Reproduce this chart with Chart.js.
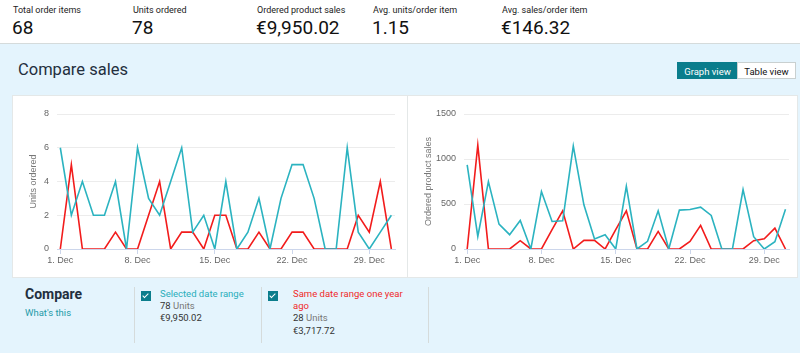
<!DOCTYPE html>
<html>
<head>
<meta charset="utf-8">
<script src="https://cdn.jsdelivr.net/npm/chart.js@4.4.1/dist/chart.umd.min.js"></script>
<style>
  body { margin: 0; width: 800px; height: 353px; overflow: hidden; background: #e4f4fd; font-family: Roboto, "Liberation Sans", sans-serif; color: #111; position: relative; }
  .abs { position: absolute; }
  #kpis { left: 0; top: 0; width: 800px; height: 43px; background: #fff; border-bottom: 1px solid #d5dbdb; }
  .kl { font-size: 9px; color: #222; top: 5px; }
  .kv { font-size: 19px; color: #111; top: 16px; }
  #title { left: 18px; top: 60px; font-size: 16.5px; color: #232f3e; }
  .btn { top: 62px; height: 17px; line-height: 17px; font-size: 9.5px; text-align: center; border: 1px solid #c9d0d0; box-sizing: border-box; }
  .panel { background: #fff; top: 95px; height: 183px; border: 1px solid #e4e8e8; box-sizing: border-box; }
  .sep { width: 1px; background: #d5dbdb; top: 287px; height: 56px; }
  .cb { width: 10px; height: 10px; background: #0a7d8c; top: 291px; }
  .cb::after { content: ""; position: absolute; left: 3px; top: 1px; width: 2px; height: 5px; border: solid #fff; border-width: 0 1px 1px 0; transform: rotate(45deg); }
  .s { font-size: 9.5px; }
</style>
</head>
<body>
<div id="kpis" class="abs">
  <div class="abs kl" style="left:13px">Total order items</div>
  <div class="abs kv" style="left:12px">68</div>
  <div class="abs kl" style="left:133px">Units ordered</div>
  <div class="abs kv" style="left:132px">78</div>
  <div class="abs kl" style="left:257px">Ordered product sales</div>
  <div class="abs kv" style="left:256px">€9,950.02</div>
  <div class="abs kl" style="left:373px">Avg. units/order item</div>
  <div class="abs kv" style="left:372px">1.15</div>
  <div class="abs kl" style="left:502px">Avg. sales/order item</div>
  <div class="abs kv" style="left:501px">€146.32</div>
</div>

<div id="title" class="abs">Compare sales</div>
<div class="abs btn" style="left:677px;width:61px;background:#0a7d8c;color:#fff;border-color:#0a7d8c">Graph view</div>
<div class="abs btn" style="left:737px;width:59px;background:#fff;color:#111">Table view</div>

<div class="abs panel" style="left:12px;width:396px">
  <div style="position:relative;width:394px;height:181px"><canvas id="unitsChart"></canvas></div>
</div>
<div class="abs panel" style="left:407px;width:391px">
  <div style="position:relative;width:389px;height:181px"><canvas id="salesChart"></canvas></div>
</div>

<div class="abs" style="left:25px;top:286px;font-size:14px;font-weight:bold;color:#232f3e">Compare</div>
<div class="abs s" style="left:25px;top:307px;color:#1e9aa8">What's this</div>
<div class="abs sep" style="left:134px"></div>
<div class="abs cb" style="left:141px"></div>
<div class="abs s" style="left:160px;top:288px;color:#2aaebb">Selected date range</div>
<div class="abs s" style="left:160px;top:300px;color:#333">78 <span style="color:#777">Units</span></div>
<div class="abs s" style="left:160px;top:312px;color:#333">€9,950.02</div>
<div class="abs sep" style="left:261px"></div>
<div class="abs cb" style="left:268px"></div>
<div class="abs s" style="left:293px;top:288px;color:#f02a2a">Same date range one year</div>
<div class="abs s" style="left:293px;top:300px;color:#f02a2a">ago</div>
<div class="abs s" style="left:293px;top:312px;color:#333">28 <span style="color:#777">Units</span></div>
<div class="abs s" style="left:293px;top:325px;color:#333">€3,717.72</div>
<div class="abs sep" style="left:428px"></div>

<script>
// dias de diciembre
const days = [1, 2, 3, 4, 5, 6, 7, 8, 9, 10, 11, 12, 13, 14, 15, 16, 17, 18, 19, 20, 21, 22, 23, 24, 25, 26, 27, 28, 29, 30, 31];
const dayTicks = [1, 8, 15, 22, 29];

// unidades pedidas
const unitsSelected = [6, 2, 4, 2, 2, 4, 0, 6, 3, 2, 4, 6, 1, 2, 0, 4, 0, 1, 3, 0, 3, 5, 5, 3, 0, 0, 6, 1, 0, 1, 2];
const unitsLastYear = [0, 5, 0, 0, 0, 1, 0, 0, 2, 4, 0, 1, 1, 0, 2, 2, 0, 0, 1, 0, 0, 1, 1, 0, 0, 0, 0, 2, 1, 4, 0];
const unitsTicks = [0, 2, 4, 6, 8];

// ventas de productos pedidos
const salesSelected = [935, 140, 749, 277, 159, 317, 0, 638, 306, 314, 1144, 491, 111, 159, 0, 697, 0, 85, 424, 0, 432, 439, 465, 373, 0, 0, 660, 137, 0, 81, 443];
const salesLastYear = [0, 1155, 0, 0, 0, 92, 0, 0, 215, 425, 0, 96, 96, 0, 215, 425, 0, 0, 195, 0, 0, 85, 262, 0, 0, 0, 0, 92, 114, 232, 0];
const salesTicks = [0, 500, 1000, 1500];

const teal = '#2bb3c0';
const red = '#f21c1c';

function makeChart(id, selected, lastYear, yTicks, yTitle, yWidth, rightPad) {
  const ctx = document.getElementById(id).getContext('2d');
  return new Chart(ctx, {
    type: 'line',
    data: {
      labels: days,
      datasets: [
        { label: 'Selected date range', data: selected, borderColor: teal, borderWidth: 1.6, pointRadius: 0, tension: 0 },
        { label: 'Same date range one year ago', data: lastYear, borderColor: red, borderWidth: 1.6, pointRadius: 0, tension: 0 }
      ]
    },
    options: {
      responsive: true,
      maintainAspectRatio: false,
      animation: false,
      layout: { padding: { top: 18, right: rightPad, left: 0, bottom: 0 } },
      plugins: { legend: { display: false }, tooltip: { enabled: false } },
      scales: {
        x: {
          type: 'linear',
          min: 0.7,
          max: 31.33,
          afterBuildTicks: (s) => { s.ticks = dayTicks.map(v => ({ value: v })); },
          afterFit: (s) => { s.height = 28; },
          ticks: { autoSkip: false, maxRotation: 0, padding: 1, color: '#666', font: { size: 9 }, callback: (v) => v + '. Dec' },
          grid: { drawOnChartArea: false, tickLength: 5, color: '#ccd6eb' },
          border: { color: '#ccd6eb' }
        },
        y: {
          min: yTicks[0],
          max: yTicks[yTicks.length - 1],
          afterBuildTicks: (s) => { s.ticks = yTicks.map(v => ({ value: v })); },
          afterFit: (s) => { s.width = yWidth; },
          ticks: { color: '#666', font: { size: 9 }, padding: 8, callback: (v) => String(v) },
          grid: { color: '#ececec', drawTicks: false },
          border: { display: false },
          title: { display: true, text: yTitle, color: '#777', font: { size: 9 }, padding: { top: 15, bottom: 0 } }
        }
      }
    }
  });
}

const unitsChart = makeChart('unitsChart', unitsSelected, unitsLastYear, unitsTicks, 'Units ordered', 44, 12);
const salesChart = makeChart('salesChart', salesSelected, salesLastYear, salesTicks, 'Ordered product sales', 56, 8);
</script>
</body>
</html>
